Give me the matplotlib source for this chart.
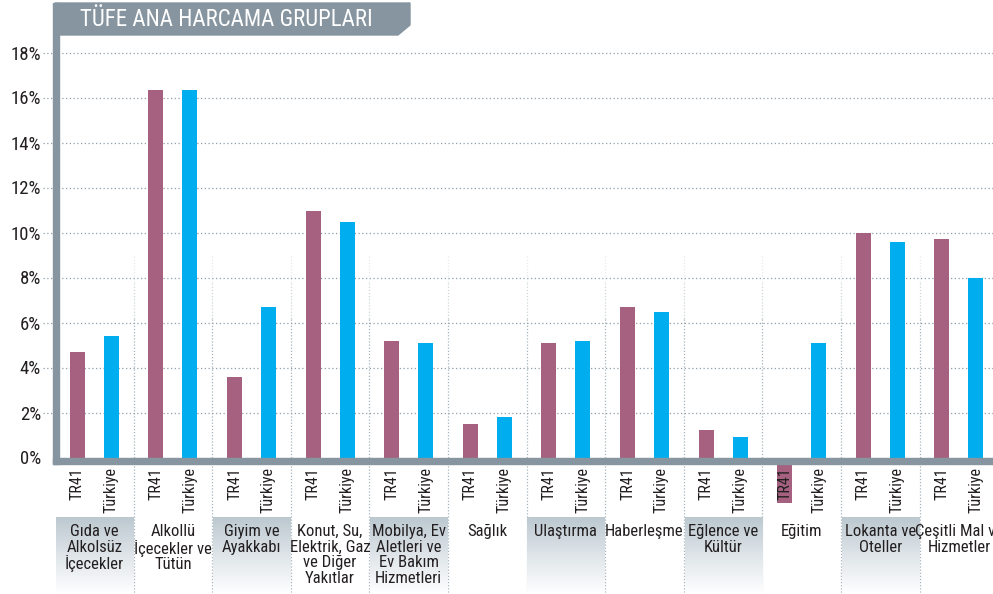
import numpy as np
import matplotlib
matplotlib.use('Agg')
import matplotlib.pyplot as plt
from matplotlib.patches import Polygon, Rectangle
from matplotlib.colors import LinearSegmentedColormap

plt.rcParams['font.family'] = ['Roboto Condensed', 'DejaVu Sans']

title = 'TÜFE ANA HARCAMA GRUPLARI'
categories = [
    'Gıda ve\nAlkolsüz\nİçecekler',
    'Alkollü\nİçecekler ve\nTütün',
    'Giyim ve\nAyakkabı',
    'Konut, Su,\nElektrik, Gaz\nve Diğer\nYakıtlar',
    'Mobilya, Ev\nAletleri ve\nEv Bakım\nHizmetleri',
    'Sağlık',
    'Ulaştırma',
    'Haberleşme',
    'Eğlence ve\nKültür',
    'Eğitim',
    'Lokanta ve\nOteller',
    'Çeşitli Mal ve\nHizmetler',
]
series = ['TR41', 'Türkiye']
tr41 = [4.7, 16.35, 3.6, 10.95, 5.2, 1.5, 5.07, 6.67, 1.24, -2.0, 9.96, 9.7]
turkiye = [5.4, 16.35, 6.67, 10.45, 5.07, 1.78, 5.2, 6.45, 0.9, 5.07, 9.56, 7.96]
yticks = [0, 2, 4, 6, 8, 10, 12, 14, 16, 18]

C_TR = '#a5617f'
C_TK = '#00aeef'
GRAY = '#86959f'
TXT = '#231f20'

W, H = 993, 594


def fbox(x0, y0, x1, y1):
    # pixel box (top-left origin) -> figure fraction rect
    return [x0 / W, 1 - y1 / H, (x1 - x0) / W, (y1 - y0) / H]


fig = plt.figure(figsize=(W / 100, H / 100), dpi=100)

# main plot
ax = fig.add_axes(fbox(55, 3, 55 + 12 * 78.6, 457.5))
ax.set_xlim(-0.5, 11.5)
ax.set_ylim(0, 454.5 / 22.5)
for s in ax.spines.values():
    s.set_visible(False)

x = np.arange(len(categories))
off, bw = 0.216, 0.19
ax.bar(x - off, tr41, bw, color=C_TR, clip_on=False, zorder=1)
ax.bar(x + off, turkiye, bw, color=C_TK, zorder=1)

# dotted grid, reaching out to the tick labels
ax.hlines(yticks[1:], -0.5 - 12 / 78.6, 11.5, colors='#8f9ea8',
          linestyles=(0, (1, 2)), linewidth=0.9, clip_on=False, zorder=0.5)

ax.set_yticks(yticks, ['{}%'.format(v) for v in yticks])
ax.tick_params(axis='y', length=0, pad=10, labelsize=13.5, labelcolor=TXT)

pos = np.concatenate([x - off, x + off])
labs = [series[0]] * len(x) + [series[1]] * len(x)
ax.set_xticks(pos, labs, rotation=90, va='top', ha='center')
ax.tick_params(axis='x', length=0, pad=7, labelsize=11.5, labelcolor=TXT)

# group separators, fading in from the middle of the plot
tr = ax.get_xaxis_transform()
ytop = (457 - 255) / 454.5
ybot = -(594 - 457) / 454.5
steps = [(ytop, ytop - 0.06, 0.25), (ytop - 0.06, ytop - 0.14, 0.5), (ytop - 0.14, ybot, 0.9)]
for b in x[:-1] + 0.5:
    for y0, y1, a in steps:
        ax.plot([b, b], [y0, y1], transform=tr, color='#9eacb5', lw=0.9,
                linestyle=(0, (1, 1.5)), alpha=a, clip_on=False, zorder=0.4)

# category boxes with gradient
bax = fig.add_axes(fbox(55, 517, 55 + 12 * 78.6, 594))
bax.set_xlim(-0.5, 11.5)
bax.set_ylim(0, 1)
bax.axis('off')
cmap = LinearSegmentedColormap.from_list('box', ['#bcc8d0', '#dfe5e9', '#ffffff'])
grad = np.linspace(0, 1, 256).reshape(-1, 1)
for i in x[::2]:
    bax.imshow(grad, extent=(i - 0.49, i + 0.49, 0, 1), aspect='auto',
               cmap=cmap, origin='upper', zorder=0)
bax.set_xlim(-0.5, 11.5)
bax.set_ylim(0, 1)
for i, cat in zip(x, categories):
    bax.text(i, 1 - 7 / 77, cat, ha='center', va='top', fontsize=12,
             color=TXT, linespacing=1.05, zorder=2)

# frame: left bar and base line
fig.patches.append(Rectangle((53 / W, 1 - 463.5 / H), 6 / W, 460.5 / H,
                             transform=fig.transFigure, color=GRAY, zorder=3))
fig.patches.append(Rectangle((53 / W, 1 - 463.5 / H), 945 / W, 6 / H,
                             transform=fig.transFigure, color=GRAY, zorder=3))

# title banner
banner = [(55, 3), (410, 3), (410, 25), (398, 35), (55, 35)]
fig.patches.append(Polygon([(px / W, 1 - py / H) for px, py in banner],
                           closed=True, transform=fig.transFigure,
                           color=GRAY, zorder=3))
fig.text(80 / W, 1 - 19.5 / H, title, color='white', fontsize=16.5,
         ha='left', va='center', zorder=4)

fig.savefig('out.png', dpi=100)
